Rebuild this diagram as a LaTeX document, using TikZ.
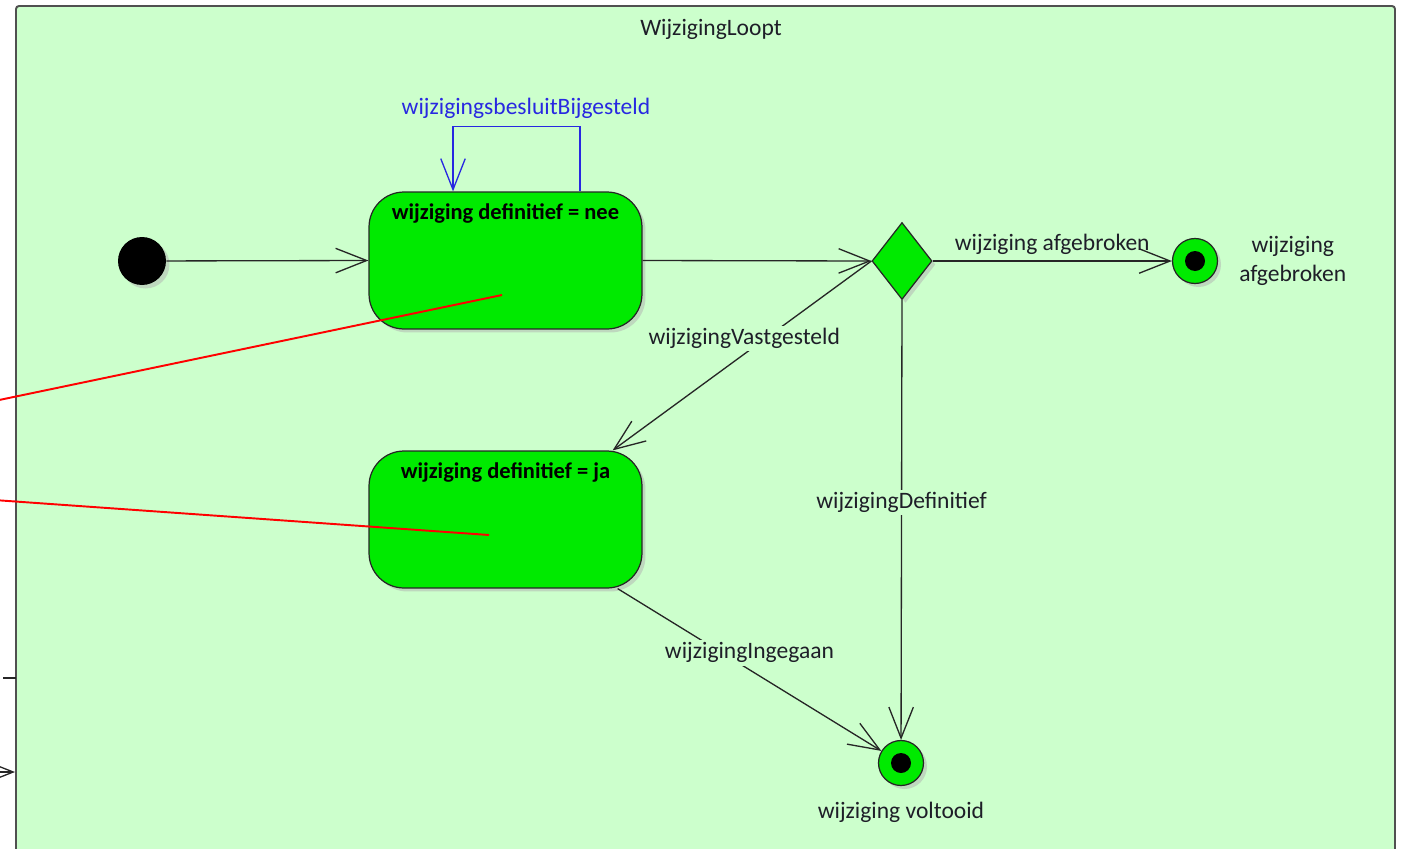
\documentclass[tikz,border=0pt]{standalone}
\usepackage{fontspec}
\setmainfont{Carlito}
\usetikzlibrary{positioning,arrows.meta,shapes.geometric,shadows}

\definecolor{loopbg}{RGB}{204,255,204}
\definecolor{stategreen}{RGB}{0,234,0}
\definecolor{framegray}{RGB}{80,80,80}
\definecolor{loopblue}{RGB}{40,40,225}
\definecolor{inktext}{RGB}{30,30,40}

\tikzset{
  shade off/.style={drop shadow={shadow xshift=0.07cm, shadow yshift=-0.07cm, fill=black!30}},
  state/.style={draw=black!85, fill=stategreen, rounded corners=0.7cm, minimum width=5.46cm,
    minimum height=2.74cm, line width=0.7pt, shade off},
  statetitle/.style={font=\fontsize{12.8}{15}\bfseries\selectfont, text=black},
  start/.style={circle, fill=black, minimum size=0.96cm, inner sep=0pt, shade off},
  choice/.style={diamond, draw=black!85, fill=stategreen, minimum width=1.2cm, minimum height=1.54cm,
    inner sep=0pt, line width=0.7pt, shade off},
  final/.style={circle, draw=black!85, fill=stategreen, minimum size=0.9cm, inner sep=0pt,
    line width=0.7pt, shade off,
    path picture={\fill[black] (path picture bounding box.center) circle (0.2cm);}},
  trans/.style={draw=black!85, line width=0.75pt, -{Straight Barb[length=6.2mm,width=4.9mm]}},
  selfloop/.style={trans, draw=loopblue},
  txt/.style={font=\fontsize{13.4}{16.4}\selectfont, text=inktext},
  lbl/.style={txt, fill=loopbg, inner sep=1.5pt},
  note/.style={draw=red, line width=1.1pt},
}

\begin{document}
\begin{tikzpicture}[x=0.02cm, y=-0.02cm]

\useasboundingbox (0,0) rectangle (1404,849);

% frame
\draw[draw=framegray, fill=loopbg, line width=1.1pt, rounded corners=0.06cm] (16,6) rectangle (1395,900);
\node[txt] (frametitle) at (711,29) {WijzigingLoopt};

% states
\node[start] (init) at (142,261) {};
\node[state] (nee) at (505.5,260.5) {};
\node[statetitle] (neeT) at ([yshift=-0.44cm]nee.north) {wijziging definitief = nee};
\node[state] (ja) at (505.5,519.5) {};
\node[statetitle] (jaT) at ([yshift=-0.44cm]ja.north) {wijziging definitief = ja};
\node[choice] (dec) at (902,261) {};
\node[final] (abort) at (1195,261) {};
\node[txt, align=center, right=0.3cm of abort] (abortT) {wijziging\\afgebroken};
\node[final] (done) at (901,763) {};
\node[txt, below=0.2cm of done] (doneT) {wijziging voltooid};

% transitions
\draw[trans] (init) -- (nee.west);
\draw[trans] (nee.east) -- (dec.west);
\draw[trans] (dec.east) -- node[txt, above] (abortL) {wijziging afgebroken} (abort);
\draw[trans] (dec.west) -- node[lbl, pos=0.41, xshift=-0.42cm] (vastL) {wijzigingVastgesteld}
  ([xshift=-0.6cm]ja.north east);
\draw[trans] (dec.south) -- node[lbl, pos=0.46] (defL) {wijzigingDefinitief} (done);
\draw[trans] ([xshift=-0.5cm]ja.south east) -- node[lbl, pos=0.5, yshift=0.34cm] (ingL) {wijzigingIngegaan} (done);

% self transition
\coordinate (loopR) at ([xshift=1.49cm]nee.north);
\coordinate (loopL) at ([xshift=-1.05cm]nee.north);
\draw[selfloop] (loopR) -- ++(0,-65) -| (loopL);
\node[txt, text=loopblue] (loopT) at (526,108) {wijzigingsbesluitBijgesteld};

% notes
\coordinate (noteA) at (-20,404);
\coordinate (noteB) at (-20,499);
\coordinate (neeNote) at (502,295);
\coordinate (jaNote) at (489,535);
\draw[note] (noteA) -- (neeNote);
\draw[note] (noteB) -- (jaNote);

% stubs at the left edge
\coordinate (stubA) at (3,678);
\coordinate (edgeA) at (16,678);
\coordinate (stubB) at (-30,772);
\coordinate (edgeB) at (15,772);
\draw[draw=black!85, line width=0.75pt] (stubA) -- (edgeA);
\draw[trans] (stubB) -- (edgeB);

\end{tikzpicture}
\end{document}
